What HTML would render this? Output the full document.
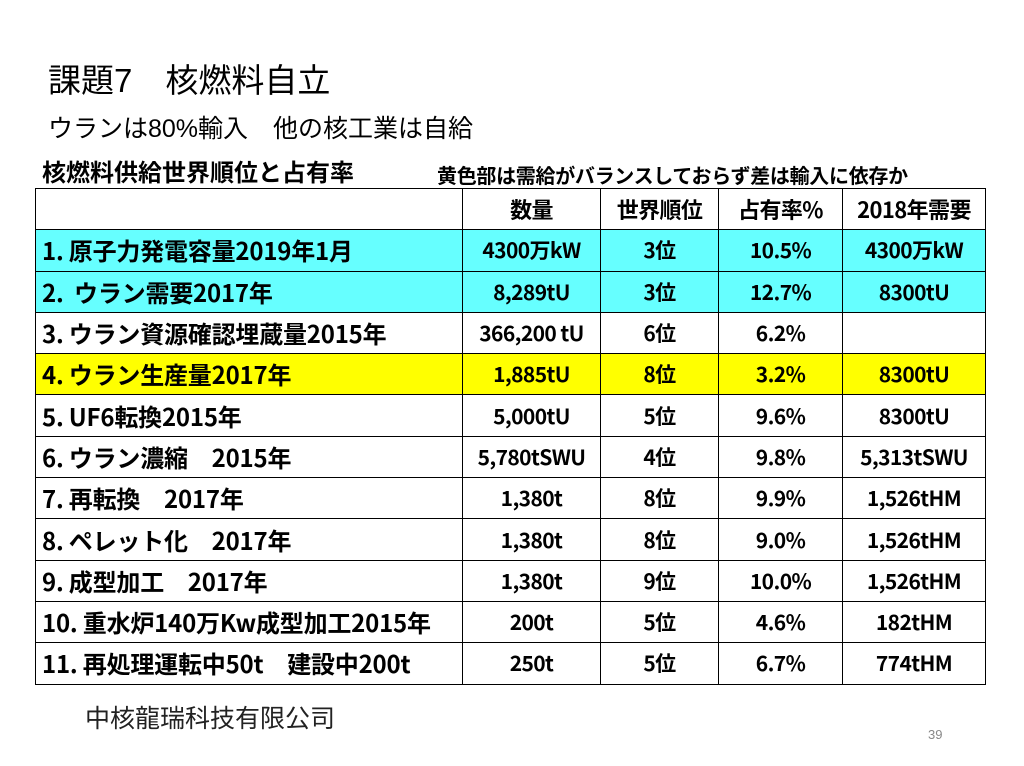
<!DOCTYPE html>
<html><head><meta charset="utf-8"><style>
body{margin:0;width:1024px;height:766px;background:#fff;position:relative;overflow:hidden;font-family:"Liberation Sans","Noto Sans CJK JP",sans-serif;color:#000}
.a{position:absolute;white-space:nowrap}
table{position:absolute;left:35px;top:188px;border-collapse:collapse;font-weight:bold;font-size:21px;font-family:"Noto Sans CJK JP",sans-serif;table-layout:fixed}
td{border:1.5px solid #000;height:40.3px;padding:0;text-align:center;line-height:24px;vertical-align:middle;letter-spacing:-0.6px;white-space:nowrap}
td:first-child{text-align:left;padding-left:6px;font-size:24px;letter-spacing:-0.2px}
tr:first-child td{font-size:22px}
.c{background:#66ffff}.y{background:#ffff00}
</style></head><body>
<div class="a" style="left:48px;top:54px;font-size:33px">課題7　核燃料自立</div>
<div class="a" style="left:48px;top:109px;font-size:25px">ウランは80%輸入　他の核工業は自給</div>
<div class="a" style="left:42px;top:153px;font-size:24px;font-weight:bold">核燃料供給世界順位と占有率</div>
<div class="a" style="left:437px;top:160px;font-size:20px;font-weight:bold;letter-spacing:-0.3px">黄色部は需給がバランスしておらず差は輸入に依存か</div>
<table>
<colgroup><col style="width:427px"><col style="width:138px"><col style="width:118px"><col style="width:124px"><col style="width:143px"></colgroup>
<tr><td></td><td>数量</td><td>世界順位</td><td>占有率%</td><td>2018年需要</td></tr>
<tr class="c"><td>1. 原子力発電容量2019年1月</td><td>4300万kW</td><td>3位</td><td>10.5%</td><td>4300万kW</td></tr>
<tr class="c"><td>2.&nbsp; ウラン需要2017年</td><td>8,289tU</td><td>3位</td><td>12.7%</td><td>8300tU</td></tr>
<tr><td>3. ウラン資源確認埋蔵量2015年</td><td>366,200 tU</td><td>6位</td><td>6.2%</td><td></td></tr>
<tr class="y"><td>4. ウラン生産量2017年</td><td>1,885tU</td><td>8位</td><td>3.2%</td><td>8300tU</td></tr>
<tr><td>5. UF6転換2015年</td><td>5,000tU</td><td>5位</td><td>9.6%</td><td>8300tU</td></tr>
<tr><td>6. ウラン濃縮　2015年</td><td>5,780tSWU</td><td>4位</td><td>9.8%</td><td>5,313tSWU</td></tr>
<tr><td>7. 再転換　2017年</td><td>1,380t</td><td>8位</td><td>9.9%</td><td>1,526tHM</td></tr>
<tr><td>8. ペレット化　2017年</td><td>1,380t</td><td>8位</td><td>9.0%</td><td>1,526tHM</td></tr>
<tr><td>9. 成型加工　2017年</td><td>1,380t</td><td>9位</td><td>10.0%</td><td>1,526tHM</td></tr>
<tr><td>10. 重水炉140万Kw成型加工2015年</td><td>200t</td><td>5位</td><td>4.6%</td><td>182tHM</td></tr>
<tr><td>11. 再処理運転中50t　建設中200t</td><td>250t</td><td>5位</td><td>6.7%</td><td>774tHM</td></tr>
</table>
<div class="a" style="left:85px;top:699px;font-size:25px;color:#222">中核龍瑞科技有限公司</div>
<div class="a" style="left:928px;top:727px;font-size:13px;color:#888">39</div>
</body></html>
